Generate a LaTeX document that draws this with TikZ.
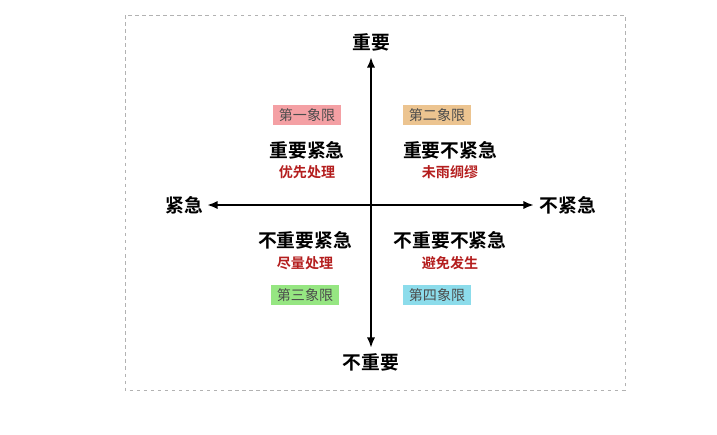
\documentclass[tikz,border=0pt]{standalone}
\usepackage{fontspec}
\newfontfamily\cjk{Noto Sans CJK SC}[BoldFont={Noto Sans CJK SC Bold}]
\usetikzlibrary{arrows.meta}
\definecolor{qpink}{RGB}{244,160,164}
\definecolor{qtan}{RGB}{236,196,144}
\definecolor{qgreen}{RGB}{150,230,130}
\definecolor{qblue}{RGB}{140,220,235}
\definecolor{qred}{RGB}{180,30,30}
\tikzset{
  >= Latex,
  axis/.style={<->, line width=2pt, >={Latex[length=9pt,width=7pt]}},
  ax/.style={font=\cjk\bfseries\fontsize{16}{16}\selectfont},
  main/.style={font=\cjk\bfseries\fontsize{16}{16}\selectfont},
  sub/.style={font=\cjk\bfseries\fontsize{12}{12}\selectfont, text=qred},
  tag/.style={fill=#1, font=\cjk\fontsize{12}{12}\selectfont, text=black!70, inner xsep=5pt, inner ysep=3pt}
}
\begin{document}
\begin{tikzpicture}[x=0.03cm, y=-0.03cm]
  \useasboundingbox (0,0) rectangle (717,434);
  \draw[dashed, gray!60, line width=0.8pt] (125,15) rectangle (625,390);
  \coordinate (top) at (371,57);
  \coordinate (bot) at (371,348);
  \coordinate (lft) at (207,205);
  \coordinate (rgt) at (534,205);
  \draw[axis] (top) -- (bot);
  \draw[axis] (lft) -- (rgt);
  \node[ax] (imp) at (371,42) {重要};
  \node[ax] (nimp) at (371,362) {不重要};
  \node[ax] (urg) at (184,205) {紧急};
  \node[ax] (nurg) at (568,205) {不紧急};
  \node[tag=qpink] (q1) at (307,115) {第一象限};
  \node[tag=qtan] (q2) at (437,115) {第二象限};
  \node[tag=qgreen] (q3) at (305,295) {第三象限};
  \node[tag=qblue] (q4) at (437,295) {第四象限};
  \node[main] (m1) at (307,150) {重要紧急};
  \node[sub] (s1) at (307,172) {优先处理};
  \node[main] (m2) at (450,150) {重要不紧急};
  \node[sub] (s2) at (450,172) {未雨绸缪};
  \node[main] (m3) at (305,240) {不重要紧急};
  \node[sub] (s3) at (305,263) {尽量处理};
  \node[main] (m4) at (450,240) {不重要不紧急};
  \node[sub] (s4) at (450,263) {避免发生};
\end{tikzpicture}
\end{document}
